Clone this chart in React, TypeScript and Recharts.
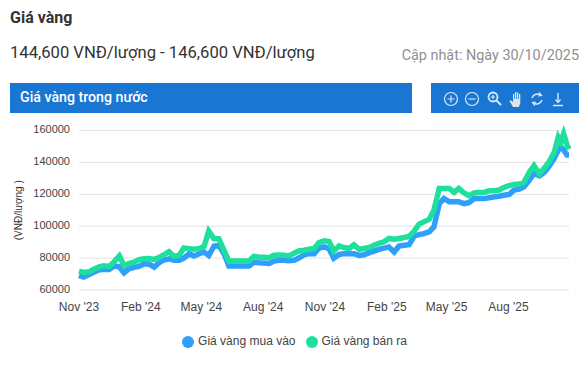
import { LineChart, Line, XAxis, YAxis, CartesianGrid, Legend } from 'recharts';

// days since 1 Nov 2023
const days = [
  0, 7, 15, 22, 30, 37, 45, 52, 60, 67, 74, 82, 89, 97, 104, 112, 119, 126, 134, 141,
  149, 156, 164, 171, 179, 186, 193, 201, 208, 216, 223, 231, 238, 246, 253, 260, 268, 275, 283, 290,
  298, 305, 312, 320, 327, 335, 342, 350, 357, 365, 372, 379, 387, 394, 402, 409, 417, 424, 432, 439,
  446, 454, 461, 469, 476, 484, 491, 499, 506, 513, 521, 528, 536, 543, 551, 558, 565, 573, 580, 588,
  595, 603, 610, 618, 625, 632, 640, 647, 655, 662, 670, 677, 685, 692, 699, 707, 713, 717, 721, 726, 729,
];

const sellPrices = [
  71800, 71000, 71400, 73000, 74500, 75200, 74800, 77600, 81400, 75200, 76500, 77500, 79000, 79600, 79800, 79200, 80400, 82000, 84000, 81200,
  81600, 86300, 85900, 85600, 86000, 87300, 96900, 92200, 92200, 84600, 78200, 78200, 78200, 78200, 78200, 81000, 80600, 80600, 80300, 81800,
  82000, 81800, 81400, 83000, 84500, 84900, 85500, 86000, 89700, 90800, 90400, 84500, 87600, 86600, 86000, 88300, 85500, 86000, 86600, 88100,
  89300, 90200, 92300, 91800, 92300, 92900, 93500, 97100, 101300, 102700, 104400, 110000, 123700, 123700, 123700, 121200, 123700, 120800, 119100, 120800,
  121200, 121200, 122200, 122200, 122700, 124300, 125400, 126200, 126400, 127500, 133800, 138000, 132800, 136300, 140100, 146300, 155800, 152700, 157900, 151000, 148300,
];

const buyPrices = [
  69200, 68100, 69700, 71200, 72700, 72900, 72900, 75000, 74600, 70800, 73300, 74200, 74800, 76500, 76300, 74400, 77100, 78800, 79600, 78600,
  78600, 80000, 82700, 81300, 82700, 83800, 81600, 87600, 88000, 82600, 75000, 75000, 75000, 75000, 75000, 77500, 77100, 76900, 76600, 78100,
  78600, 78600, 78400, 78600, 80000, 82100, 82800, 82800, 86300, 87000, 85900, 80000, 82300, 82800, 82800, 82800, 81700, 82100, 83400, 84400,
  85500, 86300, 87000, 83800, 87600, 88000, 88400, 93900, 94700, 95300, 96400, 99500, 114200, 117300, 115300, 115300, 115300, 114200, 114800, 117300,
  117300, 117300, 117800, 118400, 118800, 119400, 119900, 122600, 123200, 124700, 128900, 133100, 131600, 133700, 137300, 142500, 147800, 149800, 147800, 144600, 144600,
];

const tickDays = [0, 92, 182, 274, 366, 458, 547, 639];
const tickLabels = ["Nov '23", "Feb '24", "May '24", "Aug '24", "Nov '24", "Feb '25", "May '25", "Aug '25"];
const yTicks = [60000, 80000, 100000, 120000, 140000, 160000];

const chartData = days.map((day, i) => ({ day, buy: buyPrices[i], sell: sellPrices[i] }));

const font = 'Roboto, sans-serif';
const chartFont = '"Liberation Sans", Arial, sans-serif';

function ToolbarIcons() {
  const c = '#dce8f7';
  return (
    <svg width={148} height={30} style={{ position: 'absolute', left: 0, top: 0 }}>
      <g fill="none" stroke={c} strokeWidth={1.2}>
        <circle cx={20} cy={16} r={6.5} />
        <path d="M16.5 16h7M20 12.5v7" />
        <circle cx={41} cy={16} r={6.5} />
        <path d="M37.5 16h7" />
        <circle cx={62} cy={14} r={4.5} strokeWidth={1.8} />
        <path d="M60 14h4M62 12v4" />
        <path d="M65.5 17.5l4.5 4.5" strokeWidth={2} />
        <path d="M101 15a5.5 5.5 0 0 1 9-2.500M111 17a5.5 5.5 0 0 1-9 2.500" strokeWidth={1.4} />
        <path d="M108 9.5l2.5 3-3.500 .5M104 22.500l-2.500-3 3.500-.5" strokeWidth={1.2} />
        <path d="M127 10v9M122 22.500h10" strokeWidth={1.4} />
        <path d="M124.500 16.500l2.500 3 2.500-3" strokeWidth={1.2} />
      </g>
      <path d="M82 24l-3.500-6 1-1 2.500 2v-8h1.300v5h.7v-7h1.300v7h.7v-6.500h1.300v6.500h.7v-5h1.300v9l-1.500 4h-6z" fill="#e3e3e3" />
    </svg>
  );
}

export default function App() {
  return (
    <div style={{ position: 'absolute', left: 0, top: 0, width: 588, height: 366, background: '#fff', fontFamily: font, overflow: 'hidden' }}>
      <div style={{ position: 'absolute', left: 10, top: 8, fontSize: 16, fontWeight: 700, color: '#333' }}>Giá vàng</div>
      <div style={{ position: 'absolute', left: 10, top: 43, fontSize: 16.6, color: '#333' }}>144,600 VNĐ/lượng - 146,600 VNĐ/lượng</div>
      <div style={{ position: 'absolute', right: 9, top: 47, fontSize: 14.4, color: '#909090' }}>Cập nhật: Ngày 30/10/2025</div>
      <div style={{ position: 'absolute', left: 10, top: 83, width: 402, height: 30, background: '#1976d2', color: '#fff', fontSize: 14.2, fontWeight: 500, lineHeight: '29px', paddingLeft: 10, boxSizing: 'border-box' }}>
        Giá vàng trong nước
      </div>
      <div style={{ position: 'absolute', left: 431, top: 83, width: 148, height: 30, background: '#1976d2' }}>
        <ToolbarIcons />
      </div>
      <div style={{ position: 'absolute', left: 0, top: 120 }}>
        <LineChart width={588} height={240} data={chartData} margin={{ top: 10.5, right: 19, bottom: 26, left: 0 }} style={{ fontFamily: chartFont }}>
          <CartesianGrid vertical={false} stroke="#e3e3e3" />
          <XAxis
            dataKey="day"
            type="number"
            domain={[0, 729]}
            ticks={tickDays}
            tickFormatter={(d: number) => tickLabels[tickDays.indexOf(d)]}
            axisLine={false}
            tickLine={false}
            interval={0}
            tick={{ fontSize: 12, fill: '#444' }}
            tickMargin={6}
          />
          <YAxis
            width={79}
            domain={[60000, 160000]}
            ticks={yTicks}
            axisLine={false}
            tickLine={false}
            tick={{ fontSize: 11, fill: '#444', dy: -1 }}
            tickMargin={3}
            label={{ value: '(VNĐ/lượng )', angle: -90, position: 'insideLeft', offset: 18, style: { fontSize: 10, fill: '#333', textAnchor: 'middle' } }}
          />
          <Legend iconType="circle" iconSize={12} verticalAlign="bottom" itemSorter="dataKey" wrapperStyle={{ fontSize: 12, bottom: 12, left: 15 }} formatter={(v: string) => <span style={{ color: '#444' }}>{v}</span>} />
          <Line name="Giá vàng mua vào" dataKey="buy" type="linear" stroke="#2e9ffb" strokeWidth={5.5} dot={false} isAnimationActive={false} />
          <Line name="Giá vàng bán ra" dataKey="sell" type="linear" stroke="#1fdf9d" strokeWidth={5.5} dot={false} isAnimationActive={false} />
        </LineChart>
      </div>
    </div>
  );
}
